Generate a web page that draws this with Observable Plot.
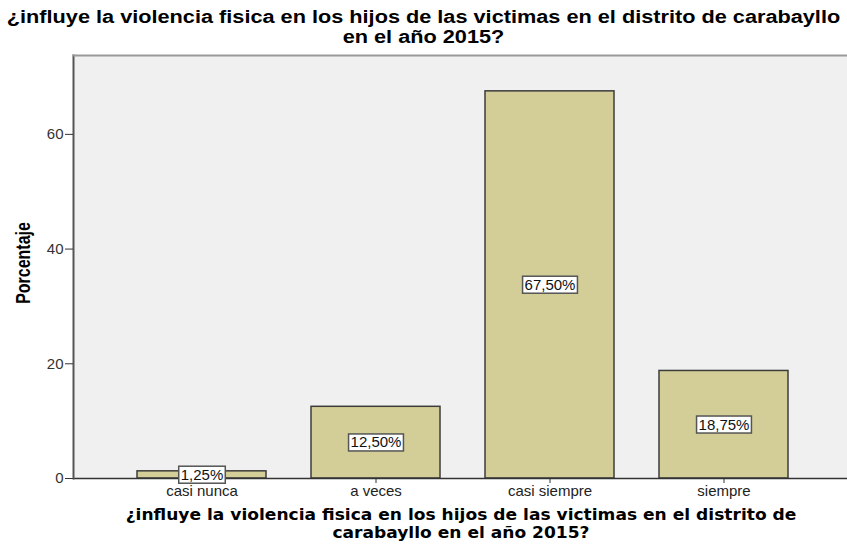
<!DOCTYPE html>
<html><head><meta charset="utf-8">
<script src="https://cdn.jsdelivr.net/npm/d3@7"></script>
<script src="https://cdn.jsdelivr.net/npm/@observablehq/plot@0.6"></script>
<style>
body{margin:0;background:#fff;width:847px;height:544px;overflow:hidden;font-family:"Liberation Sans",Arial,sans-serif;}
#title{padding-top:7px;height:41px;}
#title div{font-weight:bold;font-size:17.5px;line-height:20px;height:20px;text-align:center;white-space:nowrap;color:#000;transform:scaleX(1.24);transform-origin:423.5px 50%;}
#caption{padding-top:1px;}
#caption div{font-family:"DejaVu Sans",Verdana,sans-serif;font-weight:bold;font-size:15px;line-height:17.5px;height:17.5px;text-align:center;white-space:nowrap;color:#000;margin-left:75px;width:772px;transform:scaleX(1.138);transform-origin:50% 50%;}
svg{display:block;}
</style></head>
<body>
<div id="title"><div>¿influye la violencia fisica en los hijos de las victimas en el distrito de carabayllo</div><div>en el año 2015?</div></div>
<div id="chart"></div>
<div id="caption"><div>¿influye la violencia fisica en los hijos de las victimas en el distrito de</div><div>carabayllo en el año 2015?</div></div>
<script>
const categories = ["casi nunca", "a veces", "casi siempre", "siempre"];
const percentages = [1.25, 12.5, 67.5, 18.75];
const yTicks = [0, 20, 40, 60];
const yLabel = "Porcentaje";

const data = categories.map((c, i) => ({cat: c, value: percentages[i]}));
const fmt = v => d3.format(".2f")(v).replace(".", ",") + "%";

const chart = Plot.plot({
  width: 847,
  height: 458,
  marginTop: 7,
  marginLeft: 73,
  marginRight: 0,
  marginBottom: 28,
  style: {fontFamily: "'Liberation Sans', Arial, sans-serif", background: "white"},
  x: {domain: categories, paddingInner: 0.256, paddingOuter: 0.343, align: 0.52, axis: null},
  y: {domain: [0, 73.75], axis: null},
  marks: [
    Plot.frame({fill: "#f0f0f0"}),
    Plot.barY(data, {x: "cat", y: "value", fill: "#d3ce97", stroke: "#3c3c3c", strokeWidth: 1.5}),
    Plot.ruleY([0], {stroke: "#333", strokeWidth: 1.5}),
    Plot.frame({anchor: "left", stroke: "#555", strokeWidth: 2}),
    Plot.frame({anchor: "top", stroke: "#999", strokeWidth: 2}),
    Plot.axisY({ticks: yTicks, tickSize: 8, tickPadding: 2, tickFormat: d => String(d), label: null, fontSize: 15, stroke: "#333", fill: "#333"}),
    Plot.axisX({tickSize: 5, tickPadding: 2, label: null, fontSize: 15, stroke: "#333", fill: "#222"}),
    Plot.text(data, {x: "cat", y: d => d.value / 2, text: d => fmt(d.value), fontSize: 15, fill: "#111", className: "vlabel"}),
    Plot.text([yLabel], {frameAnchor: "left", textAnchor: "middle", rotate: -90, dx: -50, dy: -4, fontWeight: "bold", fontSize: 16, fill: "#000", className: "ylabel"})
  ]
});
document.getElementById("chart").appendChild(chart);

// white boxes behind the value labels
const g = chart.querySelector("g.vlabel") || chart.querySelector(".vlabel");
if (g) {
  g.querySelectorAll("text").forEach(t => {
    const b = t.getBBox();
    const r = document.createElementNS("http://www.w3.org/2000/svg", "rect");
    r.setAttribute("x", b.x - 2);
    r.setAttribute("y", b.y + 0.5);
    r.setAttribute("width", b.width + 4);
    r.setAttribute("height", b.height);
    r.setAttribute("fill", "white");
    r.setAttribute("stroke", "#555");
    r.setAttribute("stroke-width", "1.5");
    const tr = t.getAttribute("transform");
    if (tr) r.setAttribute("transform", tr);
    t.parentNode.insertBefore(r, t);
  });
}
// thicker (condensed-looking) y-axis title, as in the reference
const yl = chart.querySelector("g.ylabel text") || chart.querySelector(".ylabel text");
if (yl) {
  const tr = yl.getAttribute("transform") || "";
  yl.setAttribute("transform", tr.replace(/rotate\(/, "scale(1.22,1) rotate("));
}
</script>
</body></html>
